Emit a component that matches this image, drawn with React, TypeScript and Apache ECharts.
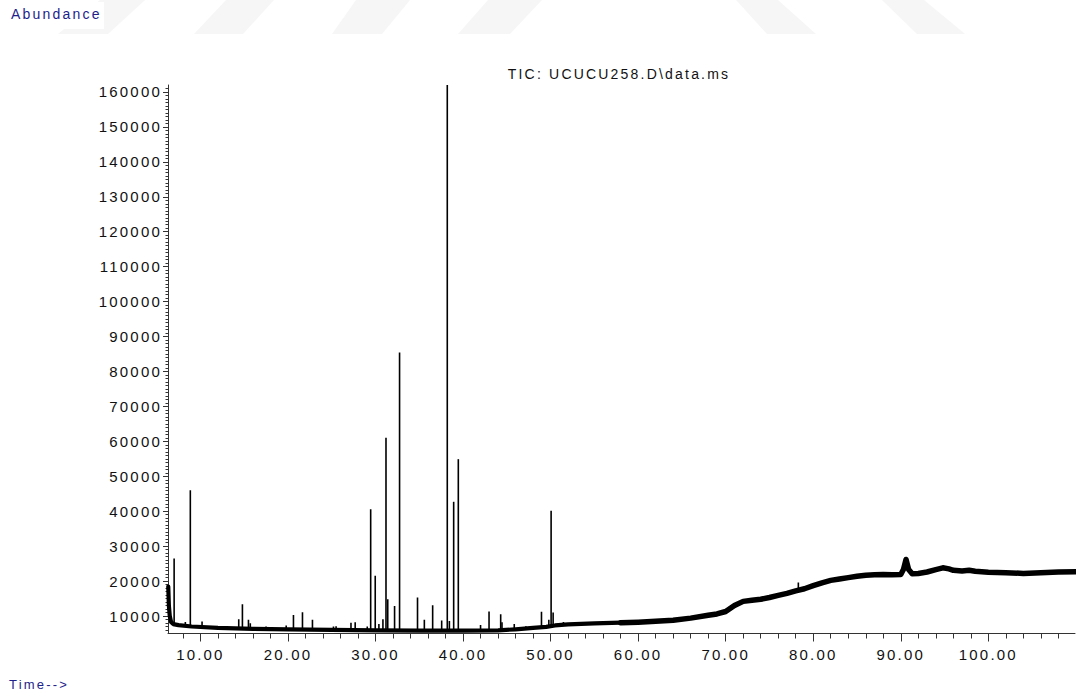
import React, { useEffect, useRef } from 'react';
import * as echarts from 'echarts';

// ---- Data (time in minutes, abundance) ----
const baselineEarlyTimes = [6.33, 6.4, 6.5, 6.65, 6.9, 7.5, 9, 12, 16, 20, 25, 30, 35, 40, 44, 46, 48, 49.5, 50.5, 52, 55, 58];
const baselineEarlyValues = [18400, 13000, 10000, 8300, 7700, 7400, 7000, 6600, 6350, 6200, 6050, 5900, 5850, 5800, 5900, 6200, 6600, 6900, 7300, 7600, 7900, 8100];

const baselineLateTimes = [58, 60, 62, 64, 66, 68, 69, 70, 71, 72, 73, 74, 75, 76, 77, 78, 79, 80, 81, 82, 83, 84, 85, 86, 87, 88, 89, 90, 90.3, 90.6, 90.9, 91.3, 92, 93, 94, 94.8, 95.5, 96, 97, 97.8, 98.5, 100, 102, 104, 106, 108, 110.2];
const baselineLateValues = [8100, 8250, 8500, 8800, 9400, 10200, 10600, 11300, 13000, 14200, 14500, 14800, 15300, 15900, 16500, 17200, 17800, 18700, 19500, 20200, 20600, 21000, 21400, 21700, 21800, 21900, 21800, 21900, 23300, 26200, 23300, 22100, 22200, 22600, 23300, 23800, 23500, 23100, 22900, 23100, 22800, 22500, 22400, 22200, 22400, 22600, 22700];

const peakTimes = [7.0, 8.28, 8.85, 10.19, 14.38, 14.8, 15.49, 15.7, 17.5, 19.8, 20.63, 21.66, 22.8, 25.2, 25.5, 27.2, 27.68, 29.06, 29.45, 29.97, 30.39, 30.85, 31.2, 31.4, 32.18, 32.75, 34.8, 35.58, 36.53, 37.56, 38.2, 38.44, 38.93, 39.46, 42.0, 42.97, 44.3, 44.45, 45.85, 47.18, 48.96, 49.8, 50.06, 50.29, 51.47, 78.3];
const peakTops = [26500, 8300, 46000, 8400, 9100, 13400, 8900, 7900, 7000, 7300, 10300, 11100, 8900, 7000, 7100, 8100, 8250, 7000, 40600, 21500, 7700, 9050, 61000, 14800, 12900, 85400, 15300, 8900, 13100, 8700, 162000, 8600, 42700, 54900, 7400, 11300, 10500, 8200, 7700, 7100, 11200, 8900, 40100, 11000, 8300, 19600];
const peakBases = [7500, 7100, 7000, 6800, 6500, 6500, 6450, 6450, 6300, 6200, 6200, 6200, 6150, 6050, 6050, 6000, 6000, 5950, 5950, 5950, 5900, 5900, 5900, 5900, 5900, 5880, 5850, 5850, 5850, 5800, 5800, 5800, 5800, 5800, 5800, 5850, 5900, 5900, 6100, 6400, 6700, 6900, 7000, 7200, 7600, 17300];

const xMajorTicks = [10, 20, 30, 40, 50, 60, 70, 80, 90, 100];
const xMinorTicks = [8, 12, 14, 16, 18, 22, 24, 26, 28, 32, 34, 36, 38, 42, 44, 46, 48, 52, 54, 56, 58, 62, 64, 66, 68, 72, 74, 76, 78, 82, 84, 86, 88, 92, 94, 96, 98, 102, 104, 106, 108];
const yMajorTicks = [10000, 20000, 30000, 40000, 50000, 60000, 70000, 80000, 90000, 100000, 110000, 120000, 130000, 140000, 150000, 160000];

const TITLE = 'TIC: UCUCU258.D\\data.ms';
const Y_TITLE = 'Abundance';
const X_TITLE = 'Time-->';

const X_MIN = 6.3;
const X_MAX = 109.9;
const Y_MIN = 5000;
const Y_MAX = 162000;

const FONT = "'Liberation Sans', Arial, sans-serif";
const BLUE = '#1e1e8c';

const yMinorTicks: number[] = [];
for (let v = 6000; v <= 161000; v += 1000) {
  if (v % 10000 !== 0) yMinorTicks.push(v);
}

export default function App() {
  const ref = useRef<HTMLDivElement>(null);

  useEffect(() => {
    if (!ref.current) return;
    const chart = echarts.init(ref.current, null, { renderer: 'svg' });

    const early = baselineEarlyTimes.map((t, i) => [t, baselineEarlyValues[i]]);
    const late = baselineLateTimes.map((t, i) => [t, baselineLateValues[i]]);
    const peaks = peakTimes.map((t, i) => [t, peakBases[i], peakTops[i]]);

    const axisColor = '#333';

    const watermark = [
      [[100, 0], [145, 0], [108, 34], [58, 34]],
      [[226, 0], [274, 0], [243, 34], [194, 34]],
      [[356, 0], [410, 0], [382, 34], [332, 34]],
      [[488, 0], [542, 0], [510, 34], [458, 34]],
      [[736, 0], [778, 0], [816, 34], [767, 34]],
      [[882, 0], [924, 0], [965, 34], [917, 34]],
    ].map((pts) => ({
      type: 'polygon',
      silent: true,
      z: -10,
      shape: { points: pts },
      style: { fill: '#f6f6f6' },
    }));

    chart.setOption({
      animation: false,
      backgroundColor: '#ffffff',
      grid: { left: 168, right: 1, top: 85, bottom: 65.5, containLabel: false },
      xAxis: [
        {
          type: 'value',
          min: X_MIN,
          max: X_MAX,
          position: 'bottom',
          axisLine: { show: true, lineStyle: { color: axisColor, width: 1 } },
          axisTick: { show: true, customValues: xMajorTicks, length: 8, lineStyle: { color: axisColor, width: 1 } },
          axisLabel: {
            show: true,
            customValues: xMajorTicks,
            formatter: (v: number) => v.toFixed(2),
            margin: 13,
            fontSize: 15,
            fontFamily: FONT,
            color: '#111',
          },
          splitLine: { show: false },
        },
        {
          type: 'value',
          min: X_MIN,
          max: X_MAX,
          position: 'bottom',
          offset: 0,
          axisLine: { show: false },
          axisTick: { show: true, customValues: xMinorTicks, length: 5, lineStyle: { color: axisColor, width: 1 } },
          axisLabel: { show: false },
          splitLine: { show: false },
        },
      ],
      yAxis: [
        {
          type: 'value',
          min: Y_MIN,
          max: Y_MAX,
          position: 'left',
          axisLine: { show: true, lineStyle: { color: axisColor, width: 1 } },
          axisTick: { show: true, customValues: yMajorTicks, length: 5, lineStyle: { color: axisColor, width: 1 } },
          axisLabel: {
            show: true,
            customValues: yMajorTicks,
            formatter: (v: number) => String(v),
            margin: 6,
            fontSize: 15,
            fontFamily: FONT,
            color: '#111',
          },
          splitLine: { show: false },
        },
        {
          type: 'value',
          min: Y_MIN,
          max: Y_MAX,
          position: 'left',
          offset: 0,
          axisLine: { show: false },
          axisTick: { show: true, customValues: yMinorTicks, length: 2.5, lineStyle: { color: axisColor, width: 1 } },
          axisLabel: { show: false },
          splitLine: { show: false },
        },
      ],
      series: [
        {
          type: 'line',
          name: 'baseline-early',
          xAxisIndex: 0,
          yAxisIndex: 0,
          data: early,
          showSymbol: false,
          symbol: 'none',
          lineStyle: { color: '#000', width: 4.2, join: 'round', cap: 'round' },
          clip: true,
          silent: true,
        },
        {
          type: 'line',
          name: 'baseline-late',
          xAxisIndex: 0,
          yAxisIndex: 0,
          data: late,
          showSymbol: false,
          symbol: 'none',
          lineStyle: { color: '#000', width: 5.5, join: 'round', cap: 'round' },
          clip: true,
          silent: true,
        },
        {
          type: 'custom',
          name: 'peaks',
          xAxisIndex: 0,
          yAxisIndex: 0,
          clip: true,
          silent: true,
          encode: { x: 0, y: [1, 2] },
          data: peaks,
          renderItem: (params: any, api: any) => {
            const p0 = api.coord([api.value(0), api.value(1)]);
            const p1 = api.coord([api.value(0), api.value(2)]);
            return {
              type: 'line',
              shape: { x1: p0[0], y1: p0[1], x2: p1[0], y2: p1[1] },
              style: { stroke: '#000', lineWidth: 1.6 },
            };
          },
        },
      ],
      graphic: [
        ...watermark,
        { type: 'rect', silent: true, z: -5, shape: { x: 7, y: 2, width: 97, height: 27 }, style: { fill: '#ffffff' } },
        {
          type: 'text',
          x: 11,
          y: 14,
          style: { text: Y_TITLE, fill: BLUE, fontSize: 14, fontFamily: FONT, align: 'left', verticalAlign: 'middle' },
        },
        {
          type: 'text',
          x: 9,
          y: 684,
          style: { text: X_TITLE, fill: BLUE, fontSize: 13, fontFamily: FONT, align: 'left', verticalAlign: 'middle' },
        },
        {
          type: 'text',
          x: 619,
          y: 74,
          style: { text: TITLE, fill: '#111', fontSize: 14, fontFamily: FONT, align: 'center', verticalAlign: 'middle' },
        },
      ],
    });

    return () => {
      chart.dispose();
    };
  }, []);

  return (
    <div id="chartwrap" style={{ position: 'absolute', left: 0, top: 0, width: 1076, height: 699, background: '#fff' }}>
      <style>{`#chartwrap text { letter-spacing: 2.2px; }`}</style>
      <div ref={ref} style={{ width: 1076, height: 699 }} />
    </div>
  );
}
